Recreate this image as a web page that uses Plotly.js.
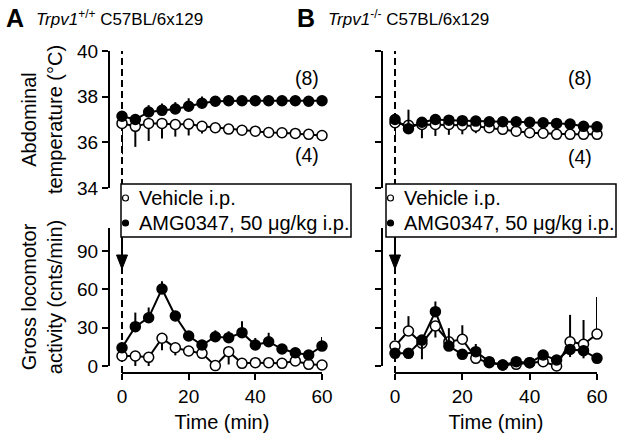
<!DOCTYPE html>
<html>
<head>
<meta charset="utf-8">
<script src="https://cdn.plot.ly/plotly-3.0.1.min.js"></script>
<style>html,body{margin:0;padding:0;background:#fff;}#chart{width:637px;height:434px;}</style>
</head>
<body>
<div id="chart"></div>
<script>
// ---- data ----
const time = [0,4,8,12,16,20,24,28,32,36,40,44,48,52,56,60];

// Panel A, Trpv1+/+ : abdominal temperature (°C)
const tempA_veh        = [36.83,36.70,36.83,36.83,36.78,36.80,36.70,36.64,36.58,36.53,36.49,36.43,36.42,36.39,36.35,36.30];
const tempA_veh_errDn  = [1.35,0.90,0.77,0.66,0.53,0.50,0.31,0.20,0.18,0.15,0.12,0.10,0.08,0.08,0.06,0.05];
const tempA_amg        = [37.14,37.00,37.33,37.40,37.46,37.58,37.71,37.80,37.82,37.82,37.82,37.82,37.82,37.82,37.80,37.82];
const tempA_amg_errUp  = [0.05,0.05,0.30,0.30,0.30,0.35,0.30,0.20,0.15,0.10,0.10,0.08,0.06,0.06,0.05,0.05];

// Panel B, Trpv1-/- : abdominal temperature (°C)
const tempB_veh        = [36.86,36.75,36.78,36.78,36.78,36.75,36.70,36.64,36.57,36.49,36.42,36.40,36.35,36.35,36.35,36.35];
const tempB_veh_errDn  = [0.70,0.30,0.60,0.50,0.45,0.40,0.30,0.20,0.15,0.10,0.08,0.06,0.05,0.05,0.05,0.05];
const tempB_amg        = [37.00,36.60,36.88,37.00,36.97,36.95,36.93,36.90,36.90,36.90,36.88,36.86,36.83,36.80,36.70,36.68];
const tempB_amg_errUp  = [0.10,0.83,0.10,0.10,0.10,0.10,0.08,0.05,0.05,0.05,0.05,0.05,0.05,0.05,0.05,0.05];

// Panel A: gross locomotor activity (cnts/min)
const actA_veh         = [7.8,7.8,6.8,21.7,14.3,11.7,9.9,0.3,11.2,2.1,2.6,2.6,2.1,3.9,1.3,0.8];
const actA_veh_errDn   = [2,8,8,9.4,6,1,2,0,10,0.5,0.5,0.5,0.5,1,0.5,0.3];
const actA_amg         = [14.3,30.8,37.8,60.3,39.1,23.5,16.4,22.9,22.2,26.1,16.4,19.0,13.3,10.4,8.6,15.6];
const actA_amg_errUp   = [2,11,8,6,2,3.4,2,5,5,9,5.5,7,3,2,1.5,7];

// Panel B: gross locomotor activity (cnts/min)
const actB_veh         = [15.6,27.4,17.8,31.3,19.0,20.9,6.0,2.6,0.8,1.3,2.6,3.4,0.0,19.0,17.0,25.0];
const actB_veh_errUp   = [3,11.6,0,0,0,11,0,0,0,0,0,0,0,21,19,29];
const actB_veh_errDn   = [0,0,0,9,0,0,0,0,0,0,0,0,0,0,0,0];
const actB_amg         = [9.9,9.9,20.3,42.5,15.6,9.1,11.2,3.4,0.8,3.4,2.6,8.6,4.7,13.0,12.0,6.0];
const actB_amg_errUp   = [2,2,3,8,14,2,6,1,1,1,1,3,1,3,3,1];
const actB_amg_errDn   = [0,4,15,0,0,0,0,0,0,0,0,0,0,6,6,0];

const legendNames = ['Vehicle i.p.', 'AMG0347, 50 μg/kg i.p.'];
const groupN = ['(8)', '(4)'];
const tempTicks = [34,36,38,40];
const actTicks = [0,30,60,90];
const timeTicks = [0,20,40,60];

// ---- helpers ----
const W = 637, H = 434;
const px = v => v / W;
const py = v => 1 - v / H;
const FONT = 'Liberation Sans, Arial, Helvetica, sans-serif';

function zeros(n){ return new Array(n).fill(0); }

function series(xa, ya, y, up, dn, filled, name){
  return {
    type:'scatter', mode:'lines+markers', x: time, y: y, xaxis: xa, yaxis: ya, name: name,
    showlegend:false, cliponaxis:false,
    line:{color:'#000', width:2},
    marker:{size:10, symbol:'circle', color: filled ? '#000' : '#fff', line:{color:'#000', width:1.5}},
    error_y:{type:'data', symmetric:false, array: up || zeros(time.length), arrayminus: dn || zeros(time.length),
             color:'#000', thickness:2, width:0}
  };
}

const traces = [
  series('x','y', tempA_veh, null, tempA_veh_errDn, false, legendNames[0]),
  series('x','y', tempA_amg, tempA_amg_errUp, null, true, legendNames[1]),
  series('x2','y2', tempB_veh, null, tempB_veh_errDn, false, legendNames[0]),
  series('x2','y2', tempB_amg, tempB_amg_errUp, null, true, legendNames[1]),
  series('x3','y3', actA_veh, null, actA_veh_errDn, false, legendNames[0]),
  series('x3','y3', actA_amg, actA_amg_errUp, null, true, legendNames[1]),
  series('x4','y4', actB_veh, actB_veh_errUp, actB_veh_errDn, false, legendNames[0]),
  series('x4','y4', actB_amg, actB_amg_errUp, actB_amg_errDn, true, legendNames[1]),
];

const tickFont = {family:FONT, size:19, color:'#000'};
const titleFont = {family:FONT, size:20, color:'#000'};

const hidX = (d) => ({domain:d, range:[0,60], visible:false, fixedrange:true});
const yAx = (dom, pos, range, vals, labels, title) => {
  const a = {
    domain: dom, range: range, anchor:'free', position: pos,
    showline:true, linecolor:'#000', linewidth:2, showgrid:false, zeroline:false,
    ticks:'outside', ticklen:6, tickwidth:2, tickcolor:'#000',
    tickvals: vals, showticklabels: labels, tickfont: tickFont
  };
  if (title) a.title = {text:title, font:titleFont, standoff:8};
  return a;
};
const xAx = (dom) => ({
  domain: dom, range:[0,60], anchor:'free', position: py(373),
  showline:true, linecolor:'#000', linewidth:2, showgrid:false, zeroline:false,
  ticks:'outside', ticklen:6, tickwidth:2, tickcolor:'#000',
  tickvals: timeTicks, tickfont: tickFont,
  title:{text:'Time (min)', font:titleFont, standoff:8}
});

const topDom = [py(188), py(51)];
const botDom = [py(366), py(228)];
const leftX = [px(122), px(322)];
const rightX = [px(395), px(597)];

const shapes = [];
const ann = [
  {text:'<b>A</b>', x:px(4), y:py(18), font:{family:FONT, size:25, color:'#000'}},
  {text:'<i>Trpv1</i><sup>+/+</sup> C57BL/6x129', x:px(34), y:py(18), font:{family:FONT, size:17, color:'#000'}},
  {text:'<b>B</b>', x:px(295), y:py(18), font:{family:FONT, size:25, color:'#000'}},
  {text:'<i>Trpv1</i><sup>-/-</sup> C57BL/6x129', x:px(326), y:py(18), font:{family:FONT, size:17, color:'#000'}},
].map(a => Object.assign({xref:'paper', yref:'paper', xanchor:'left', yanchor:'middle', showarrow:false}, a));

// group sizes
[[307,78,0],[307,155,1],[580,78,0],[580,157,1]].forEach(([x,y,i])=>{
  ann.push({text:groupN[i], xref:'paper', yref:'paper', x:px(x), y:py(y), xanchor:'center', yanchor:'middle',
            showarrow:false, font:{family:FONT, size:19.5, color:'#000'}});
});

// per-column decorations: dashed injection line (at time 0 = left edge of x domain), arrow, legend box
[[leftX[0], 121], [rightX[0], 386]].forEach(([x0, boxL])=>{
  const hw = px(5.5);
  shapes.push({type:'line', xref:'paper', yref:'paper', x0:x0, x1:x0, y0:py(373), y1:py(51),
               line:{color:'#000', width:2, dash:'7px,4px'}, layer:'below'});
  shapes.push({type:'line', xref:'paper', yref:'paper', x0:x0, x1:x0, y0:py(237), y1:py(258),
               line:{color:'#000', width:2}});
  shapes.push({type:'path', xref:'paper', yref:'paper',
               path:`M ${x0-hw},${py(255)} L ${x0+hw},${py(255)} L ${x0},${py(269)} Z`,
               fillcolor:'#000', line:{color:'#000', width:1}});
  // legend box
  shapes.push({type:'rect', xref:'paper', yref:'paper', x0:px(boxL), x1:px(boxL+230), y0:py(237), y1:py(184),
               fillcolor:'#fff', line:{color:'#000', width:1.5}, layer:'above'});
  [[198, false],[223, true]].forEach(([yc, filled], i)=>{
    shapes.push({type:'circle', xref:'paper', yref:'paper', x0:px(boxL+1.5), x1:px(boxL+7.5),
                 y0:py(yc+3), y1:py(yc-3), fillcolor: filled ? '#000' : '#fff', line:{color:'#000', width:1.2}, layer:'above'});
    ann.push({text:legendNames[i], xref:'paper', yref:'paper', x:px(boxL+16), y:py(yc), xanchor:'left', yanchor:'middle',
              showarrow:false, font:{family:FONT, size:20, color:'#000'}});
  });
});

const layout = {
  width: W, height: H, margin:{l:0, r:0, t:0, b:0},
  paper_bgcolor:'#fff', plot_bgcolor:'rgba(0,0,0,0)',
  font:{family:FONT, color:'#000'}, showlegend:false,
  xaxis: hidX(leftX), xaxis2: hidX(rightX),
  xaxis3: xAx(leftX), xaxis4: xAx(rightX),
  yaxis: yAx(topDom, px(109), [34,40], tempTicks, true, 'Abdominal<br>temperature (°C)'),
  yaxis2: yAx(topDom, px(382), [34,40], tempTicks, false, null),
  yaxis3: yAx(botDom, px(109), [0,108], actTicks, true, 'Gross locomotor<br>activity (cnts/min)'),
  yaxis4: yAx(botDom, px(382), [0,108], actTicks, false, null),
  shapes: shapes,
  annotations: ann
};

Plotly.newPlot('chart', traces, layout, {staticPlot:true, displayModeBar:false});
</script>
</body>
</html>
